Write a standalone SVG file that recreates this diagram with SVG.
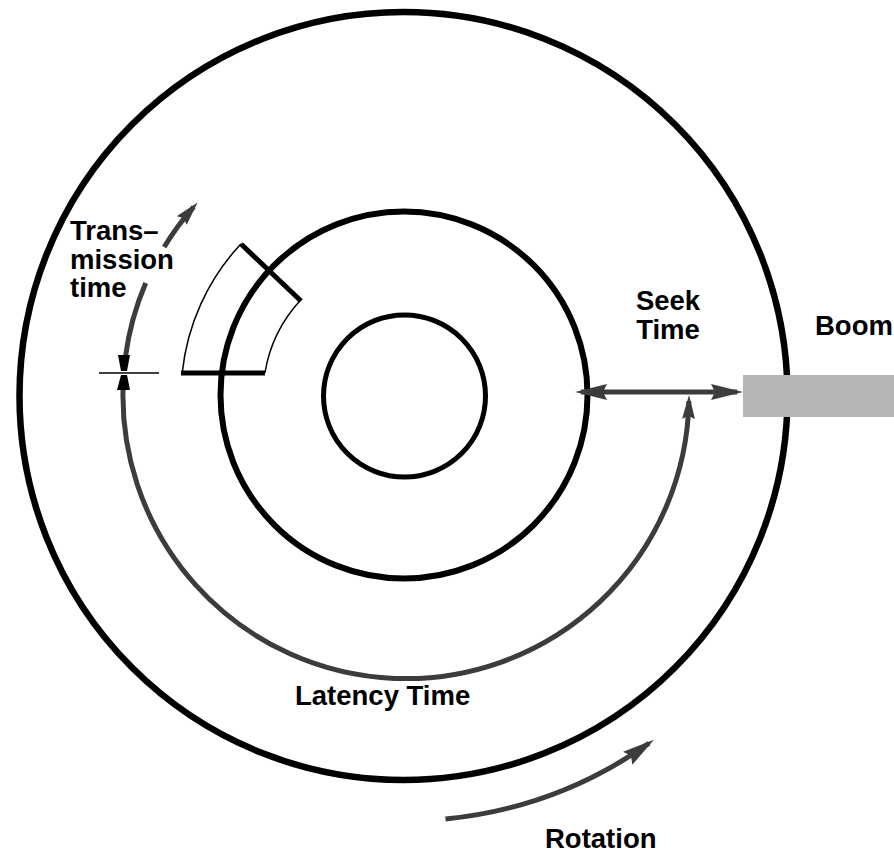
<svg xmlns="http://www.w3.org/2000/svg" width="894" height="855" viewBox="0 0 894 855">
<style>
.disk{fill:none;stroke:#000}
.arrow{fill:none;stroke:#3c3c3c;stroke-width:5}
.lbl{font-family:"Liberation Sans",Arial,sans-serif;font-weight:bold;font-size:27.5px;fill:#000}
.thin{fill:none;stroke:#000;stroke-width:1.5}
.thick{fill:none;stroke:#000;stroke-width:5}
</style>
<defs>
<marker id="big" viewBox="0 0 32 16" refX="26" refY="8" markerWidth="32" markerHeight="16" markerUnits="userSpaceOnUse" orient="auto-start-reverse">
<path d="M0,0 L32,8 L0,16 L4,8 z" fill="#3c3c3c"/>
</marker>
<marker id="small" viewBox="0 0 24 13" refX="18" refY="6.5" markerWidth="24" markerHeight="13" markerUnits="userSpaceOnUse" orient="auto-start-reverse">
<path d="M0,0 L24,6.5 L0,13 L3,6.5 z" fill="#3c3c3c"/>
</marker>
</defs>
<rect width="894" height="855" fill="#fff"/>
<g id="outer-disk"><circle class="disk" cx="403.5" cy="396" r="384" stroke-width="6.5"/></g>
<g id="middle-track"><circle class="disk" cx="404" cy="395" r="183.5" stroke-width="6"/></g>
<g id="inner-track"><circle class="disk" cx="404.5" cy="396" r="81" stroke-width="5"/></g>
<g id="sector">
<path class="thin" d="M182.2,373 A223,223 0 0 1 240.9,243.9"/>
<path class="thin" d="M264.9,373 A141,141 0 0 1 300.9,299.8"/>
<line class="thick" x1="181" y1="373" x2="265" y2="373"/>
<line class="thick" x1="241" y1="244" x2="301" y2="301"/>
</g>
<g id="boom">
<rect x="743" y="375" width="151" height="42" fill="#b5b5b5"/>
<text class="lbl" x="815" y="335">Boom</text>
</g>
<g id="connectors">
<line class="arrow" x1="581" y1="392" x2="737" y2="392" marker-start="url(#big)" marker-end="url(#big)"/>
<path class="arrow" stroke-width="4" d="M123.5,378 A283,283 0 1 0 688.9,401" marker-end="url(#small)"/>
<path class="arrow" d="M125.4,357 A283,283 0 0 1 145.7,283"/>
<path class="arrow" d="M164.2,247 A283,283 0 0 1 193.7,206.9" marker-end="url(#small)"/>
<path class="arrow" d="M445.5,819 A425,425 0 0 0 649,743.3" marker-end="url(#big)"/>
<line x1="99" y1="373" x2="159" y2="373" stroke="#000" stroke-width="1.5"/>
<polygon points="118,355 130,355 127,371 121,371" fill="#000"/>
<polygon points="121,375 127,375 130,390 117,390" fill="#000"/>
</g>
<g id="labels">
<text class="lbl" x="70" y="240">Trans–</text>
<text class="lbl" x="70" y="268.5">mission</text>
<text class="lbl" x="70" y="297">time</text>
<text class="lbl" x="668" y="310" text-anchor="middle">Seek</text>
<text class="lbl" x="668" y="339" text-anchor="middle">Time</text>
<text class="lbl" x="295" y="705">Latency Time</text>
<text class="lbl" x="545" y="848">Rotation</text>
</g>
</svg>
